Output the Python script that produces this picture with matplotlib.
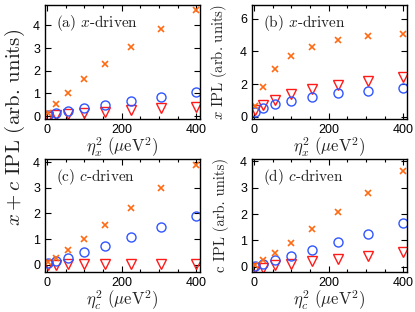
import matplotlib
matplotlib.use("Agg")
import matplotlib.pyplot as plt
from matplotlib.ticker import MultipleLocator

# ── Data ──────────────────────────────────────────────────────────────────────
eta2 = [4, 25, 56.25, 100, 156.25, 225, 306.25, 400]

a_cross = [0.13, 0.52, 1.0, 1.63, 2.3, 3.05, 3.85, 4.68]
a_circ = [0.03, 0.12, 0.22, 0.34, 0.48, 0.67, 0.83, 1.07]
a_tri = [-0.03, 0.03, 0.08, 0.12, 0.18, 0.27, 0.34, 0.39]

b_cross = [0.65, 1.85, 2.9, 3.72, 4.3, 4.7, 4.93, 5.05]
b_circ = [0.27, 0.51, 0.76, 0.98, 1.19, 1.43, 1.6, 1.74]
b_tri = [0.41, 0.72, 1.02, 1.37, 1.68, 1.93, 2.2, 2.42]

c_cross = [0.09, 0.26, 0.56, 0.99, 1.53, 2.21, 2.98, 3.88]
c_circ = [0.05, 0.13, 0.26, 0.48, 0.74, 1.06, 1.46, 1.91]
c_tri = [0.0, 0.0, 0.01, 0.01, 0.01, 0.01, 0.02, 0.02]

d_cross = [0.06, 0.24, 0.52, 0.91, 1.44, 2.09, 2.81, 3.65]
d_circ = [0.04, 0.1, 0.24, 0.41, 0.64, 0.92, 1.25, 1.66]
d_tri = [-0.04, -0.03, 0.06, 0.12, 0.21, 0.31, 0.41, 0.56]

# ── Styling ───────────────────────────────────────────────────────────────────
CROSS_COLOR = "#ff6a13"
CIRC_COLOR = "#2f55ff"
TRI_COLOR = "#ff1a1a"
TEXT_COLOR = "#222222"
SERIF = ["cmr10", "DejaVu Serif"]

plt.rcParams["mathtext.fontset"] = "cm"
plt.rcParams["font.family"] = ["Liberation Sans", "DejaVu Sans"]

fig = plt.figure(figsize=(4.15, 3.12), dpi=100)

W = 155 / 415
panels = [
    # rect, cross, circ, tri, ylim, yticks, label, xlabel sub, ylabel
    ([45 / 415, 1 - 119 / 312, W, 114 / 312], a_cross, a_circ, a_tri,
     (-0.13, 4.9), [0, 1, 2, 3, 4], r"(a) $x$-driven", "x", None),
    ([252 / 415, 1 - 119 / 312, W, 114 / 312], b_cross, b_circ, b_tri,
     (-0.14, 6.85), [0, 2, 4, 6], r"(b) $x$-driven", "x",
     r"$x$ IPL (arb. units)"),
    ([45 / 415, 1 - 272 / 312, W, 113 / 312], c_cross, c_circ, c_tri,
     (-0.29, 4.13), [0, 1, 2, 3, 4], r"(c) $c$-driven", "c", None),
    ([252 / 415, 1 - 272 / 312, W, 113 / 312], d_cross, d_circ, d_tri,
     (-0.2, 4.09), [0, 1, 2, 3, 4], r"(d) $c$-driven", "c",
     r"c IPL (arb. units)"),
]

for rect, cross, circ, tri, ylim, yticks, label, sub, ylabel in panels:
    ax = fig.add_axes(rect)
    ax.plot(eta2, tri, linestyle="none", marker="v", markersize=7.5,
            markerfacecolor="none", markeredgecolor=TRI_COLOR, markeredgewidth=1.0)
    ax.plot(eta2, circ, linestyle="none", marker="o", markersize=6.5,
            markerfacecolor="none", markeredgecolor=CIRC_COLOR, markeredgewidth=1.0)
    ax.plot(eta2, cross, linestyle="none", marker="x", markersize=5,
            color=CROSS_COLOR, markeredgewidth=1.2)

    ax.set_xlim(-5, 410)
    ax.set_ylim(*ylim)
    ax.set_xticks([0, 200, 400])
    ax.set_yticks(yticks)
    ax.xaxis.set_minor_locator(MultipleLocator(50))
    ax.tick_params(which="both", direction="in", top=True, right=True,
                   labelsize=9, colors="black", width=0.8)
    ax.tick_params(which="major", length=4)
    ax.tick_params(which="minor", length=2)
    for sp in ax.spines.values():
        sp.set_linewidth(1.0)

    ax.text(0.07, 0.93, label, transform=ax.transAxes, ha="left", va="top",
            fontsize=11, family=SERIF, color=TEXT_COLOR)
    ax.set_xlabel(r"$\eta_%s^2\ (\mu\mathrm{eV}^2)$" % sub, fontsize=12,
                  color=TEXT_COLOR, labelpad=0)
    if ylabel:
        ax.set_ylabel(ylabel, fontsize=10.5, family=SERIF, color=TEXT_COLOR,
                      labelpad=8)

fig.text(0.037, 0.59, r"$x + c$ IPL (arb. units)", rotation=90, ha="center",
         va="center", fontsize=15, family=SERIF, color=TEXT_COLOR)

fig.savefig("out.png", dpi=100, facecolor="white")
